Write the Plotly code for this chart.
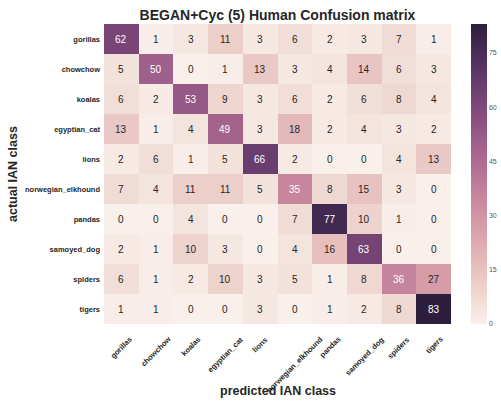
import numpy as np
import plotly.graph_objects as go

classes = ["gorillas", "chowchow", "koalas", "egyptian_cat", "lions",
           "norwegian_elkhound", "pandas", "samoyed_dog", "spiders", "tigers"]

row_gorillas = [62, 1, 3, 11, 3, 6, 2, 3, 7, 1]
row_chowchow = [5, 50, 0, 1, 13, 3, 4, 14, 6, 3]
row_koalas = [6, 2, 53, 9, 3, 6, 2, 6, 8, 4]
row_egyptian_cat = [13, 1, 4, 49, 3, 18, 2, 4, 3, 2]
row_lions = [2, 6, 1, 5, 66, 2, 0, 0, 4, 13]
row_norwegian_elkhound = [7, 4, 11, 11, 5, 35, 8, 15, 3, 0]
row_pandas = [0, 0, 4, 0, 0, 7, 77, 10, 1, 0]
row_samoyed_dog = [2, 1, 10, 3, 0, 4, 16, 63, 0, 0]
row_spiders = [6, 1, 2, 10, 3, 5, 1, 8, 36, 27]
row_tigers = [1, 1, 0, 0, 3, 0, 1, 2, 8, 83]

matrix = [row_gorillas, row_chowchow, row_koalas, row_egyptian_cat, row_lions,
          row_norwegian_elkhound, row_pandas, row_samoyed_dog, row_spiders, row_tigers]

cbar_ticks = [0, 15, 30, 45, 60, 75]


# seaborn cubehelix_palette(light=.95, as_cmap=True) colour map
def cubehelix(x, start=0.0, rot=0.4, gamma=1.0, hue=0.8):
    xg = x ** gamma
    a = hue * xg * (1 - xg) / 2
    phi = 2 * np.pi * (start / 3 + rot * x)
    r = xg + a * (-0.14861 * np.cos(phi) + 1.78277 * np.sin(phi))
    g = xg + a * (-0.29227 * np.cos(phi) - 0.90649 * np.sin(phi))
    b = xg + a * (1.97294 * np.cos(phi))
    return [min(max(v, 0.0), 1.0) for v in (r, g, b)]


light, dark = 0.95, 0.15
colorscale = []
for t in np.linspace(0, 1, 21):
    r, g, b = cubehelix(light + (dark - light) * t)
    colorscale.append([float(t), f"rgb({int(round(r*255))},{int(round(g*255))},{int(round(b*255))})"])

zmin, zmax = 0, max(max(r) for r in matrix)

W, H = 501, 403
L, R, T, B = 104, 50, 24, 79
PW, PH = W - L - R, H - T - B

fig = go.Figure()
fig.add_trace(go.Heatmap(
    z=matrix, x=classes, y=classes,
    colorscale=colorscale, zmin=zmin, zmax=zmax,
    xgap=0, ygap=0, hoverinfo="skip",
    colorbar=dict(
        x=(471 - L) / PW, xanchor="left", xref="paper", xpad=0, ypad=0,
        y=0.5, yanchor="middle", len=1.0, lenmode="fraction",
        thickness=16, outlinewidth=0, tickvals=cbar_ticks,
        ticks="", tickfont=dict(family="Arial", size=7, color="#555555"),
        ticklabelposition="outside",
    ),
))

annotations = []
for i, row_name in enumerate(classes):
    for j, col_name in enumerate(classes):
        v = matrix[i][j]
        annotations.append(dict(
            x=col_name, y=row_name, xref="x", yref="y", text=str(v),
            showarrow=False,
            font=dict(family="Arial", size=10,
                      color="white" if v >= 30 else "#262626"),
        ))

# rotated x tick labels centred on their ticks (matplotlib style)
for col_name in classes:
    annotations.append(dict(
        x=col_name, y=-8 / PH, xref="x", yref="paper", text=col_name,
        showarrow=False, textangle=-45, xanchor="center", yanchor="top",
        font=dict(family="Arial", size=7.5, color="#262626", weight="bold"),
    ))

annotations.append(dict(
    x=0.5, y=(T + PH - 391) / PH, xref="paper", yref="paper",
    text="predicted IAN class", showarrow=False,
    xanchor="center", yanchor="middle",
    font=dict(family="Arial", size=12.5, color="#262626", weight="bold"),
))
annotations.append(dict(
    x=(13 - L) / PW, y=0.5, xref="paper", yref="paper",
    text="actual IAN class", showarrow=False, textangle=-90,
    xanchor="center", yanchor="middle",
    font=dict(family="Arial", size=12.5, color="#262626", weight="bold"),
))

fig.update_layout(
    width=W, height=H,
    margin=dict(l=L, r=R, t=T, b=B, autoexpand=False),
    paper_bgcolor="white", plot_bgcolor="white",
    title=dict(text="<b>BEGAN+Cyc (5) Human Confusion matrix</b>",
               x=0.5, xref="paper", xanchor="center",
               y=1 - 15 / H, yref="container", yanchor="middle",
               font=dict(family="Arial", size=14, color="#262626")),
    xaxis=dict(showticklabels=False, showgrid=False, zeroline=False,
               ticks="", showline=False),
    yaxis=dict(autorange="reversed", showgrid=False, zeroline=False,
               ticks="", showline=False, ticklabelstandoff=3,
               tickfont=dict(family="Arial", size=7.5, color="#262626",
                             weight="bold")),
    annotations=annotations,
)

fig.write_html(
    "out.html",
    config={"displayModeBar": False},
    post_script="document.body.style.margin='0';document.body.style.overflow='hidden';",
)
